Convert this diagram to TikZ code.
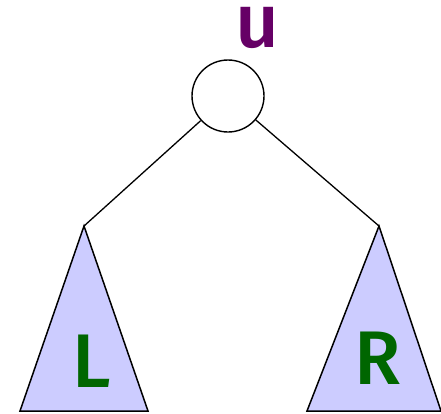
\documentclass[tikz,border=0pt]{standalone}
\usepackage{fontspec}
\setmainfont{Fira Sans}
\definecolor{trifill}{HTML}{CCCCFF}
\definecolor{upurple}{HTML}{660066}
\definecolor{lgreen}{HTML}{006600}
\begin{document}
\begin{tikzpicture}[x=1pt,y=-1pt,
  tree/.style={draw=black,line width=1.5pt,fill=trifill,line join=miter},
  edge/.style={draw=black,line width=1.3pt},
  lbl/.style={inner sep=0pt,font=\fontsize{76}{76}\selectfont\fontspec{Fira Sans Medium}}]
\useasboundingbox (0,0) rectangle (441,413);
\node[circle,draw=black,line width=1.4pt,minimum size=72pt,inner sep=0pt] (u) at (228,96) {};
\coordinate (la) at (84,226);
\coordinate (ra) at (379,226);
\path[tree] (la) -- (148,411) -- (20,411) -- cycle;
\path[tree] (ra) -- (441,411) -- (307,411) -- cycle;
\draw[edge] (u) -- (la);
\draw[edge] (u) -- (ra);
\node[lbl,text=upurple,anchor=base] (ul) at (257,47) {u};
\node[lbl,text=lgreen,anchor=base] (L) at (92,387) {L};
\node[lbl,text=lgreen,anchor=base] (R) at (378,384) {R};
\end{tikzpicture}
\end{document}
